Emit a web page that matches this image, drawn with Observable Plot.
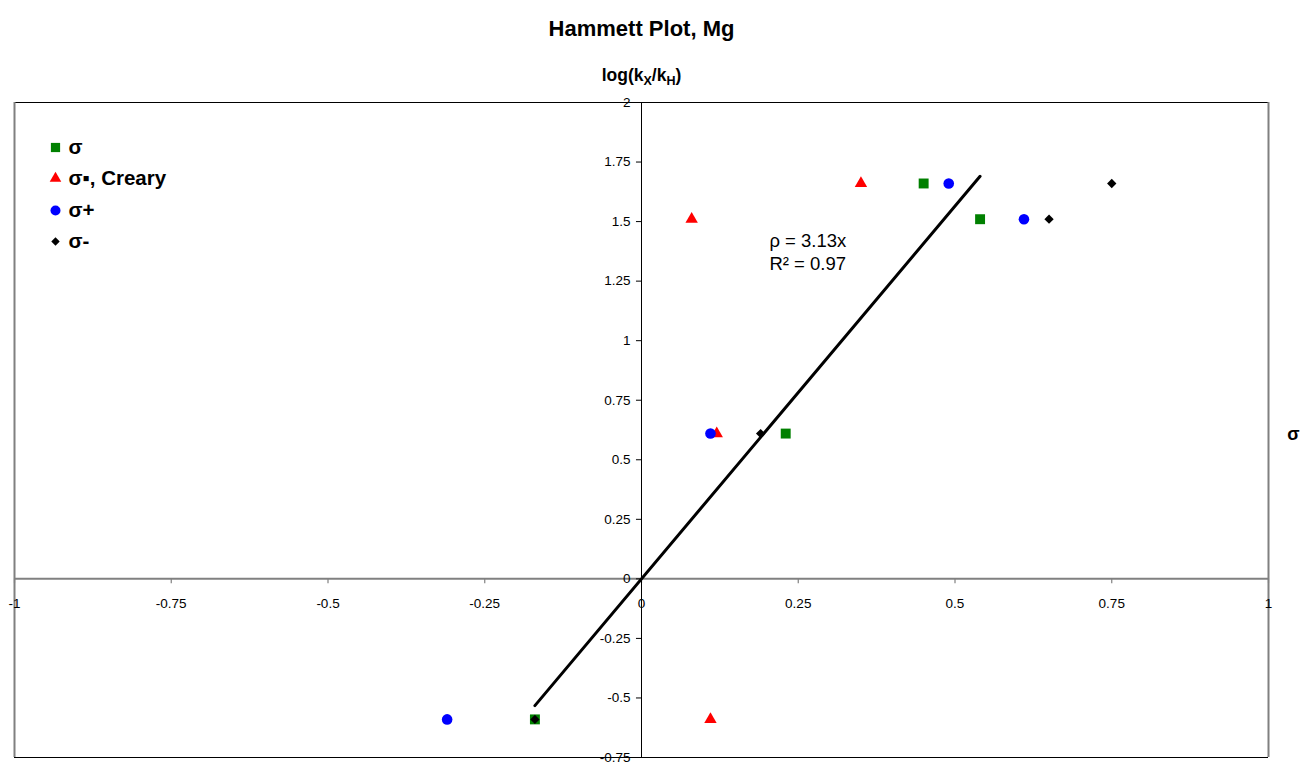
<!DOCTYPE html>
<html>
<head>
<meta charset="utf-8">
<script src="https://cdn.jsdelivr.net/npm/d3@7"></script>
<script src="https://cdn.jsdelivr.net/npm/@observablehq/plot@0.6"></script>
<style>
  html, body { margin: 0; padding: 0; background: #fff; }
  #chart svg { display: block; }
</style>
</head>
<body>
<div id="chart"></div>
<script>
// Series (x = substituent constant, y = log(kX/kH))
const sigmaX      = [-0.17, 0.23, 0.45, 0.54];
const sigmaY      = [-0.59, 0.61, 1.66, 1.51];
const crearyX     = [0.11, 0.12, 0.08, 0.35];
const crearyY     = [-0.59, 0.61, 1.51, 1.66];
const sigmaPlusX  = [-0.31, 0.11, 0.49, 0.61];
const sigmaPlusY  = [-0.59, 0.61, 1.66, 1.51];
const sigmaMinusX = [-0.17, 0.19, 0.65, 0.75];
const sigmaMinusY = [-0.59, 0.61, 1.51, 1.66];

// Trend line: rho = 3.13x over the sigma range
const rho = 3.13;
const fitRangeX = [-0.17, 0.54];

// Axis ticks
const xTicks = [-1, -0.75, -0.5, -0.25, 0, 0.25, 0.5, 0.75, 1];
const yTicks = [-0.75, -0.5, -0.25, 0, 0.25, 0.5, 0.75, 1, 1.25, 1.5, 1.75, 2];

// Legend
const seriesNames   = ["σ", "σ▪, Creary", "σ+", "σ-"];
const seriesColors  = ["#008000", "#ff0000", "#0000ff", "#000000"];
const seriesSymbols = ["square", "triangle", "circle", "diamond2"];
const seriesSizes   = [5.6, 4.6, 5.3, 4.2];
const legendSizes   = [5.2, 4.3, 5.0, 3.8];
const legendRowOffsets = [45, 76, 108, 139];

const toPts = (xs, ys) => xs.map((x, i) => ({x, y: ys[i]}));
const fitData = fitRangeX.map(x => ({x, y: rho * x}));

const font = "'Liberation Sans', Arial, Helvetica, sans-serif";

const legendMarks = seriesNames.flatMap((name, i) => [
  Plot.dot([name], {frameAnchor: "top-left", dx: 41, dy: legendRowOffsets[i], symbol: seriesSymbols[i], fill: seriesColors[i], r: legendSizes[i]}),
  Plot.text([name], {frameAnchor: "top-left", lineAnchor: "middle", dx: 54, dy: legendRowOffsets[i], textAnchor: "start", fontSize: 20.5, fontWeight: "bold", fill: "#000"})
]);

const plot = Plot.plot({
  width: 1302,
  height: 762,
  marginLeft: 14,
  marginRight: 34,
  marginTop: 102,
  marginBottom: 5,
  x: {domain: [-1, 1], axis: null},
  y: {domain: [-0.75, 2], axis: null},
  style: {fontFamily: font, background: "#fff", overflow: "visible"},
  marks: [
    // plot-area frame
    Plot.ruleY([2, -0.75], {stroke: "#000", strokeWidth: 1}),
    Plot.ruleX([-1, 1], {stroke: "#808080", strokeWidth: 2}),
    // x axis at y = 0
    Plot.ruleY([0], {stroke: "#808080", strokeWidth: 2}),
    Plot.ruleX(xTicks, {x: d => d, y1: 0, y2: -0.02, stroke: "#808080", strokeWidth: 1.2}),
    Plot.text(xTicks, {x: d => d, y: 0, text: d => String(d), dy: 25, fontSize: 13.5, fill: "#000"}),
    // y axis at x = 0
    Plot.ruleX([0], {stroke: "#000", strokeWidth: 1}),
    Plot.ruleY(yTicks, {y: d => d, x1: 0, x2: -0.008, stroke: "#000", strokeWidth: 1}),
    Plot.text(yTicks, {x: 0, y: d => d, text: d => String(d), dx: -11, textAnchor: "end", fontSize: 13.5, fill: "#000"}),
    // trend line
    Plot.line(fitData, {x: "x", y: "y", stroke: "#000", strokeWidth: 3}),
    // series
    Plot.dot(toPts(sigmaX, sigmaY), {x: "x", y: "y", symbol: "square", r: seriesSizes[0], fill: seriesColors[0]}),
    Plot.dot(toPts(crearyX, crearyY), {x: "x", y: "y", symbol: "triangle", r: seriesSizes[1], fill: seriesColors[1]}),
    Plot.dot(toPts(sigmaPlusX, sigmaPlusY), {x: "x", y: "y", symbol: "circle", r: seriesSizes[2], fill: seriesColors[2]}),
    Plot.dot(toPts(sigmaMinusX, sigmaMinusY), {x: "x", y: "y", symbol: "diamond2", r: seriesSizes[3], fill: seriesColors[3]}),
    // equation annotation
    Plot.text(["ρ = 3.13x"], {x: 0.204, y: 1.417, textAnchor: "start", fontSize: 18.5, fill: "#000"}),
    Plot.text(["R² = 0.97"], {x: 0.204, y: 1.32, textAnchor: "start", fontSize: 18.5, fill: "#000"}),
    // legend
    ...legendMarks,
    // titles
    Plot.text(["Hammett Plot, Mg"], {frameAnchor: "top", lineAnchor: "middle", dy: -74, fontSize: 22, fontWeight: "bold", fill: "#000"}),
    Plot.text(["log(kX/kH)"], {x: 0, frameAnchor: "top", lineAnchor: "middle", dy: -27, fontSize: 17.5, fontWeight: "bold", fill: "#000", className: "ytitle"}),
    Plot.text(["σ"], {frameAnchor: "right", dx: 31, dy: 4, fontSize: 18, fontWeight: "bold", fill: "#000"})
  ]
});

document.getElementById("chart").appendChild(plot);

// Subscripts in the y-axis title
d3.select(plot).selectAll(".ytitle text").each(function() {
  this.textContent = "";
  const parts = [["log(k", 0, null], ["X", 4, "12.5"], ["/k", -4, null], ["H", 4, "12.5"], [")", -4, null]];
  for (const [s, dy, fs] of parts) {
    const ts = document.createElementNS("http://www.w3.org/2000/svg", "tspan");
    ts.textContent = s;
    if (dy) ts.setAttribute("dy", dy);
    if (fs) ts.setAttribute("font-size", fs);
    this.appendChild(ts);
  }
});
</script>
</body>
</html>
